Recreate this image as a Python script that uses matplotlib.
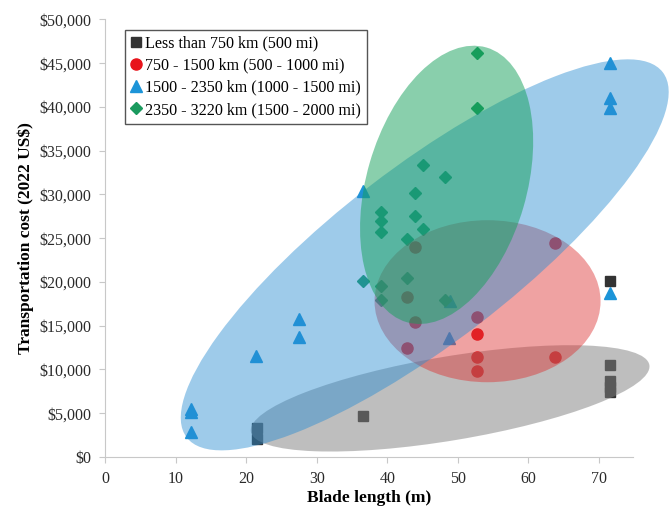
import matplotlib
matplotlib.use("Agg")
import matplotlib.pyplot as plt
from matplotlib.patches import Ellipse
from matplotlib.transforms import IdentityTransform
from matplotlib.ticker import FuncFormatter

# blade length (m) and transport cost (2022 US$) for each distance band
less750_x = [21.5, 21.5, 36.5, 71.5, 71.5, 71.5, 71.5, 71.5]
less750_y = [3300, 2100, 4700, 20100, 10500, 8700, 8000, 7400]

band1500_x = [42.8, 43.9, 42.8, 43.9, 52.7, 52.7, 52.7, 52.7, 63.7, 63.7]
band1500_y = [12500, 15400, 18300, 24000, 16000, 14000, 11400, 9800, 11400, 24400]

band2350_x = [12.2, 12.2, 12.2, 21.4, 27.5, 27.5, 36.5, 48.9, 48.7, 71.5, 71.5, 71.5, 71.5]
band2350_y = [5500, 5100, 2800, 11500, 15800, 13700, 30400, 17800, 13600, 45000, 41000, 39900, 18700]

band3220_x = [52.7, 52.7, 45.0, 48.2, 43.9, 39.1, 39.1, 39.1, 43.9, 45.0, 42.8, 36.5, 39.1, 42.8, 39.1, 48.2]
band3220_y = [46200, 39900, 33400, 32000, 30200, 28000, 27000, 25700, 27500, 26100, 24900, 20100, 19500, 20500, 17900, 17900]

labels = ["Less than 750 km (500 mi)",
          "750 - 1500 km (500 - 1000 mi)",
          "1500 - 2350 km (1000 - 1500 mi)",
          "2350 - 3220 km (1500 - 2000 mi)"]

# cluster ellipses: centre in data units, semi-axes in pixels, angle in degrees
ellipses = [
    dict(xy=(48.9, 6700), a=202, b=42, angle=9.5, color="#7f7f7f", alpha=0.5),
    dict(xy=(54.2, 17800), a=113, b=81, angle=0, color="#dc3232", alpha=0.45),
    dict(xy=(45.3, 23100), a=300, b=88, angle=37.5, color="#288cd2", alpha=0.45),
    dict(xy=(48.4, 31100), a=143, b=80, angle=73.8, color="#14a05a", alpha=0.5),
]

plt.rcParams['font.family'] = ['Liberation Serif', 'DejaVu Serif']

fig = plt.figure(figsize=(6.7, 5.11), dpi=100)
ax = fig.add_axes([0.1567, 0.1057, 0.788, 0.8562])

ax.plot(less750_x, less750_y, 's', color="#333333", ms=6.5, label=labels[0], zorder=2)
ax.plot(band1500_x, band1500_y, 'o', color="#e8141b", ms=8, label=labels[1], zorder=2)
ax.plot(band2350_x, band2350_y, '^', color="#1c94d8", ms=8, label=labels[2], zorder=2)
ax.plot(band3220_x, band3220_y, 'D', color="#1a9a5e", ms=6, label=labels[3], zorder=2)

ax.set_xlim(0, 74.8)
ax.set_ylim(0, 50000)
ax.set_xticks(range(0, 80, 10))
ax.set_yticks(range(0, 55000, 5000))
ax.yaxis.set_major_formatter(FuncFormatter(lambda v, p: f"${v:,.0f}"))

for s in ['top', 'right']:
    ax.spines[s].set_visible(False)
for s in ['left', 'bottom']:
    ax.spines[s].set_color("#c8c8c8")
ax.tick_params(colors="#c8c8c8", labelcolor="#2a2a2a", labelsize=11.5, length=4)
ax.tick_params(axis='y', pad=6)
ax.tick_params(axis='x', pad=6)

ax.set_xlabel("Blade length (m)", fontsize=12.5, fontweight='bold', labelpad=2)
ax.set_ylabel("Transportation cost (2022 US$)", fontsize=12.5, fontweight='bold', labelpad=4)

# ellipses drawn in pixel space over the points
fig.canvas.draw()
for e in ellipses:
    cx, cy = ax.transData.transform(e['xy'])
    patch = Ellipse((cx, cy), 2 * e['a'], 2 * e['b'], angle=e['angle'],
                    facecolor=e['color'], edgecolor='none', alpha=e['alpha'],
                    transform=IdentityTransform(), clip_on=False, zorder=3)
    ax.add_patch(patch)

leg = ax.legend(loc='upper left', bbox_to_anchor=(0.038, 0.976), borderaxespad=0,
                fontsize=11.6, handlelength=0.7, handletextpad=0.2, labelspacing=0.38,
                borderpad=0.35, fancybox=False, framealpha=1, edgecolor="#555555")
leg.get_frame().set_linewidth(1.0)
leg.set_zorder(5)

fig.savefig("out.png", dpi=100)
